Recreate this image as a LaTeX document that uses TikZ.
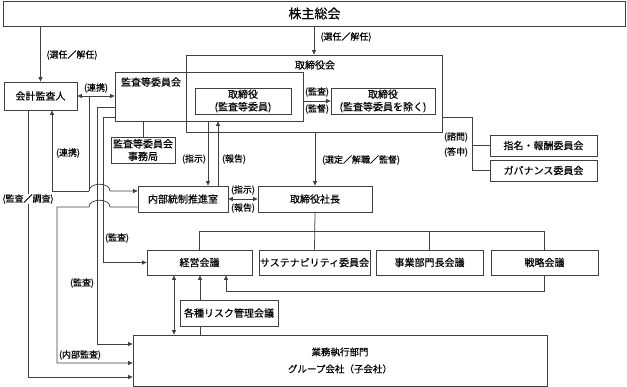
\documentclass[tikz,border=0pt]{standalone}
\usepackage{fontspec}
\usepackage{tikz}
\usetikzlibrary{arrows.meta, positioning, calc}
\newfontfamily\jp[FakeBold=0.35]{Noto Sans CJK JP}
\definecolor{linegray}{gray}{0.25}
\tikzset{
    box/.style={draw=linegray, line width=0.75pt, inner sep=1pt, align=center, text=black, font=\jp\fontsize{10}{12.5}\selectfont},
    ttl/.style={inner sep=0pt, text=black, font=\jp\fontsize{10}{12}\selectfont},
    lbl/.style={inner sep=0.5pt, text=black, font=\jp\fontsize{9}{10}\selectfont},
    conn/.style={draw=linegray, line width=0.75pt},
    arr/.style={conn, -{Triangle[length=4.5pt, width=4pt]}},
    arrs/.style={conn, {Triangle[length=4.5pt, width=4pt]}-{Triangle[length=4.5pt, width=4pt]}},
}

\begin{document}
\begin{tikzpicture}[x=1pt, y=-1pt]
    \useasboundingbox (0,0) rectangle (627,387);

    % 株主総会・取締役会
    \node[box, minimum width=622pt, minimum height=25pt, font=\jp\fontsize{13}{15}\selectfont] (kabu) at (314.5,13.5) {株主総会};
    \node[box, minimum width=256pt, minimum height=77pt] (torikai) at (314,93.5) {};
    \node[ttl] (torikaiTtl) at (315,65) {取締役会};
    \node[box, minimum width=188pt, minimum height=49pt] (kansa) at (209,96.5) {};
    \node[ttl] (kansaTtl) at (151,82) {監査等委員会};
    \node[box, minimum width=96pt, minimum height=26pt] (toriKan) at (243,101) {取締役\\(監査等委員)};
    \node[box, minimum width=104pt, minimum height=26pt] (toriJo) at (383,101) {取締役\\(監査等委員を除く)};
    \node[box, minimum width=73pt, minimum height=28pt] (kaikei) at (40.5,96) {会計監査人};
    \node[box, minimum width=64pt, minimum height=26pt] (jimu) at (143,150) {監査等委員会\\事務局};
    \node[box, minimum width=107pt, minimum height=21pt] (shimei) at (543.5,145.5) {指名・報酬委員会};
    \node[box, minimum width=107pt, minimum height=21pt] (gov) at (543.5,170.5) {ガバナンス委員会};
    \node[box, minimum width=90pt, minimum height=26pt] (naibu) at (183,199) {内部統制推進室};
    \node[box, minimum width=114pt, minimum height=26pt] (shacho) at (315,199) {取締役社長};

    % 会議体・執行
    \node[box, minimum width=105pt, minimum height=25pt] (keiei) at (199.5,262.5) {経営会議};
    \node[box, minimum width=107pt, minimum height=25pt] (sus) at (314.5,262.5) {サステナビリティ委員会};
    \node[box, minimum width=107pt, minimum height=25pt] (jigyo) at (429.5,262.5) {事業部門長会議};
    \node[box, minimum width=107pt, minimum height=25pt] (senryaku) at (544.5,262.5) {戦略会議};
    \node[box, minimum width=98pt, minimum height=26pt] (risk) at (229,313) {各種リスク管理会議};
    \node[box, minimum width=414pt, minimum height=51pt, font=\jp\fontsize{9.5}{17}\selectfont] (gyomu) at (340,360.5) {業務執行部門\\グループ会社（子会社）};

    % 選任・解任
    \draw[arr] (kaikei.north |- kabu.south) -- (kaikei.north);
    \node[lbl] (lSenA) at (72,55) {(選任／解任)};
    \draw[arr] (kabu.south -| torikai.north) -- (torikai.north);
    \node[lbl] (lSenB) at (346,37) {(選任／解任)};
    \draw[arr] (torikai.south -| shacho.north) -- (shacho.north);
    \node[lbl] (lSentei) at (361,160) {(選定／解職／監督)};

    % 取締役会の中
    \draw[arr] (kansa.east |- toriJo.west) -- (toriJo.west);
    \node[lbl] (lKansaA) at (317,92) {(監査)};
    \node[lbl] (lKantoku) at (317,109) {(監督)};

    % 連携
    \draw[arrs] (kaikei.east) -- (kaikei.east -| kansa.west);
    \node[lbl] (lRenA) at (96,88) {(連携)};
    \coordinate (renJ) at (89,191);
    \draw[conn] (renJ) -- (renJ |- kaikei.east);
    \draw[arr] (renJ) -| ([xshift=11.5pt]kaikei.south);
    \draw[arr] (renJ) .. controls (89,182) and (110,182) .. (110,191) -- (naibu.west |- renJ);
    \node[lbl] (lRenB) at (68,153) {(連携)};

    % 監査の線
    \draw[arr] (kansa.west |- 0,107) -| (97,344) -- (gyomu.west |- 0,344);
    \node[lbl] (lKansaB) at (82,283) {(監査)};
    \draw[arr] (kansa.west |- 0,117) -| (103,262.5) -- (keiei.west);
    \node[lbl] (lKansaC) at (117,238) {(監査)};
    \draw[arr] (naibu.west |- 0,207) -- (110,207) .. controls (110,198) and (89,198) .. (89,207) -| (57,363) -- (gyomu.west |- 0,363);
    \node[lbl] (lNaibu) at (80,355) {(内部監査)};
    \draw[arr] ([xshift=-12.5pt]kaikei.south) |- (gyomu.west |- 0,377);
    \node[lbl, fill=white] (lChosa) at (28,199) {(監査／調査)};

    % 事務局・内部統制推進室
    \draw[conn] (jimu.north) -- (jimu.north |- kansa.south);
    \draw[arr] (kansa.south -| 208,0) -- (naibu.north -| 208,0);
    \draw[arr] (naibu.north -| 218,0) -- (kansa.south -| 218,0);
    \node[lbl] (lShijiA) at (194,159) {(指示)};
    \node[lbl] (lHokokuA) at (234,159) {(報告)};
    \draw[arrs] (naibu.east) -- (shacho.west);
    \node[lbl] (lShijiB) at (243,190) {(指示)};
    \node[lbl] (lHokokuB) at (243,208) {(報告)};

    % 諮問・答申
    \draw[conn] (torikai.east |- 0,117) -| (472,170.5) -- (gov.west);
    \draw[conn] (shimei.west -| 472,0) -- (shimei.west);
    \node[lbl] (lShimon) at (456,137) {(諮問)};
    \node[lbl] (lToshin) at (456,152) {(答申)};

    % 社長から会議体
    \draw[conn] (shacho.south) -- (sus.north);
    \coordinate (busR) at (senryaku.north |- 0,231);
    \draw[conn] (keiei.north) |- (busR) -- (senryaku.north);
    \draw[conn] (jigyo.north) -- (jigyo.north |- busR);
    \draw[arr] (senryaku.south) -- (senryaku.south |- 0,291) -| ([xshift=26.5pt]keiei.south);

    % 執行部門から経営会議
    \draw[conn] (gyomu.north -| 200,0) -- (risk.south -| 200,0);
    \draw[arr] (risk.north -| 200,0) -- (keiei.south -| 200,0);
    \draw[arrs] (keiei.south -| 174,0) -- (gyomu.north -| 174,0);
\end{tikzpicture}
\end{document}
